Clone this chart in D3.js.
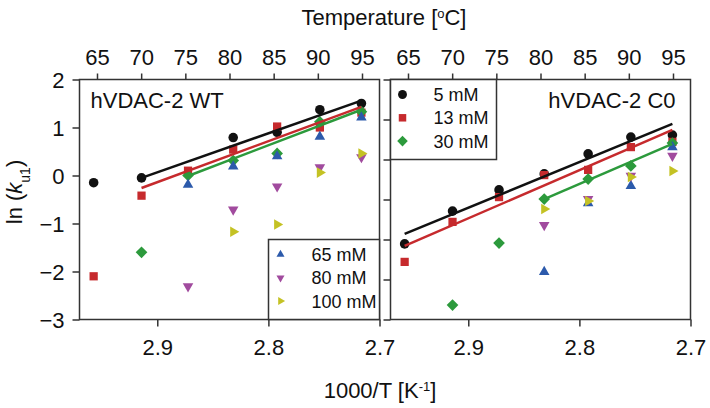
<!DOCTYPE html>
<html>
<head>
<meta charset="utf-8">
<script src="https://cdn.jsdelivr.net/npm/d3@7"></script>
<style>
  body { margin: 0; background: #fff; }
  text { font-family: "Liberation Sans", Arial, sans-serif; fill: #111; }
</style>
</head>
<body>
<svg width="710" height="408"></svg>
<script>
// temperatures (degC) of the measurements
var temps = [65, 70, 75, 80, 85, 90, 95];

// hVDAC-2 WT, ln(ku1) per concentration (null = no point)
var wt5   = [-0.15, -0.05, null, 0.79, 0.90, 1.37, 1.50];
var wt13  = [-2.10, -0.42, 0.10, 0.54, 1.02, 1.00, 1.31];
var wt30  = [null, -1.60, 0.00, 0.31, 0.46, 1.12, 1.33];
var wt65  = [null, null, -0.19, 0.19, 0.40, 0.81, 1.21];
var wt80  = [null, null, -2.31, -0.71, -0.23, 0.17, 0.38];
var wt100 = [null, null, null, -1.17, -1.02, 0.06, 0.46];

// hVDAC-2 C0
var c05  = [-2.11, -1.29, -0.76, -0.36, 0.14, 0.56, 0.61];
var c13  = [-2.56, -1.56, -0.94, -0.39, -0.26, 0.31, 0.44];
var c30  = [null, -3.64, -2.09, -0.99, -0.49, -0.16, 0.41];
var c65  = [null, null, null, -2.81, -1.09, -0.66, 0.31];
var c80  = [null, null, null, -1.64, -0.99, -0.41, 0.09];
var c100 = [null, null, null, -1.24, -1.04, -0.44, -0.29];

// linear fits: [startTemp, startValue, endTemp, endValue]
var wtFits = [[70, -0.05, 95, 1.56], [70, -0.26, 95, 1.43], [75, -0.01, 95, 1.37]];
var c0Fits = [[65, -1.86, 95, 0.89], [65, -2.16, 95, 0.74], [80, -0.99, 95, 0.39]];

var concLabels = ["5 mM", "13 mM", "30 mM", "65 mM", "80 mM", "100 mM"];
var colors = ["#111111", "#c62a2d", "#2c9a3c", "#2c5aab", "#a14b9e", "#c4c224"];
var shapes = ["circle", "square", "diamond", "up", "down", "right"];

var topTicks = [65, 70, 75, 80, 85, 90, 95];
var bottomTicks = [2.9, 2.8, 2.7];
var yTicksWT = [2, 1, 0, -1, -2, -3];
var yTicksC0 = [2, 1, 0, -1, -2, -3, -4];

var svg = d3.select("svg");
var pw = 300, ph = 240, top0 = 79.5;

function invT(t) { return 1000 / (t + 273.15); }

function symbolPath(shape, big) {
    var s = d3.symbol();
    if (shape == "circle") return s.type(d3.symbolCircle).size(big ? 72 : 62)();
    if (shape == "square" || shape == "diamond") return s.type(d3.symbolSquare).size(big ? 68 : 56)();
    return s.type(d3.symbolTriangle).size(big ? 48 : 28)();
}
function symbolRot(shape) {
    if (shape == "diamond") return 45;
    if (shape == "down") return 180;
    if (shape == "right") return 90;
    return 0;
}

function panel(left, series, fits, yDomain, yTicks, yLabels) {
    var g = svg.append("g").attr("transform", "translate(" + left + "," + top0 + ")");
    var x = d3.scaleLinear().domain([2.97, 2.7]).range([0, pw]);
    var xt = d3.scaleLinear().domain([65, 95]).range([17.5, 282.5]);
    var y = d3.scaleLinear().domain(yDomain).range([ph, 0]);

    var left_ax = g.append("g").call(d3.axisLeft(y).tickValues(yTicks).tickSize(7)
        .tickFormat(yLabels ? d3.format("d") : ""));
    var top_ax = g.append("g").call(d3.axisTop(xt).tickValues(topTicks).tickSize(6).tickPadding(9));
    var bot_ax = g.append("g").attr("transform", "translate(0," + ph + ")")
        .call(d3.axisBottom(x).tickValues(bottomTicks).tickSize(7).tickPadding(13).tickFormat(d3.format(".1f")));
    [left_ax, top_ax, bot_ax].forEach(function(a) {
        a.select(".domain").remove();
        a.selectAll("line").attr("stroke", "#333").attr("stroke-width", 1.5);
        a.selectAll("text").style("font-size", "22px").attr("fill", "#111")
            .style("font-family", '"Liberation Sans", Arial, sans-serif');
    });
    left_ax.selectAll("text").attr("x", -15).attr("dy", "0.36em");

    g.append("rect").attr("width", pw).attr("height", ph)
        .attr("fill", "none").attr("stroke", "#333").attr("stroke-width", 1.5);

    series.forEach(function(vals, i) {
        var pts = temps.map(function(t, j) { return {t: t, v: vals[j]}; })
            .filter(function(d) { return d.v != null; });
        g.append("g").selectAll("path").data(pts).enter().append("path")
            .attr("d", symbolPath(shapes[i], true))
            .attr("fill", colors[i])
            .attr("transform", function(d) {
                return "translate(" + x(invT(d.t)) + "," + y(d.v) + ") rotate(" + symbolRot(shapes[i]) + ")";
            });
    });

    fits.forEach(function(f, i) {
        g.append("line")
            .attr("x1", x(invT(f[0]))).attr("y1", y(f[1]))
            .attr("x2", x(invT(f[2]))).attr("y2", y(f[3]))
            .attr("stroke", colors[i]).attr("stroke-width", 2.5);
    });
    return g;
}

var gL = panel(79.5, [wt5, wt13, wt30, wt65, wt80, wt100], wtFits, [-3, 2], yTicksWT, true);
var gR = panel(390.5, [c05, c13, c30, c65, c80, c100], c0Fits, [-4, 2], yTicksC0, false);

gL.append("text").attr("x", 11).attr("y", 28).style("font-size", "22px").text("hVDAC-2 WT");
gR.append("text").attr("x", 285).attr("y", 28).attr("text-anchor", "end").style("font-size", "22px").text("hVDAC-2 C0");

function legend(g, bx, by, bw, bh, idx) {
    g.append("rect").attr("x", bx).attr("y", by).attr("width", bw).attr("height", bh)
        .attr("fill", "#fff").attr("stroke", "#333").attr("stroke-width", 1.5);
    idx.forEach(function(i, k) {
        var cy = by + 15 + k * 23.3;
        g.append("path").attr("d", symbolPath(shapes[i], false)).attr("fill", colors[i])
            .attr("transform", "translate(" + (bx + 12) + "," + cy + ") rotate(" + symbolRot(shapes[i]) + ")");
        g.append("text").attr("x", bx + 43).attr("y", cy).attr("dy", "0.36em")
            .style("font-size", "18px").text(concLabels[i]);
    });
}
legend(gR, 0, 0, 106, 80, [0, 1, 2]);
legend(gL, 189, 160, 111, 80, [3, 4, 5]);

// axis titles
var t1 = svg.append("text").attr("x", 384).attr("y", 25).attr("text-anchor", "middle").style("font-size", "22px");
t1.append("tspan").text("Temperature [");
t1.append("tspan").attr("baseline-shift", "super").style("font-size", "13px").text("o");
t1.append("tspan").text("C]");

var t2 = svg.append("text").attr("x", 380).attr("y", 398).attr("text-anchor", "middle").style("font-size", "22px");
t2.append("tspan").text("1000/T [K");
t2.append("tspan").attr("baseline-shift", "super").style("font-size", "13px").text("-1");
t2.append("tspan").text("]");

var t3 = svg.append("text").attr("transform", "translate(22,192) rotate(-90)")
    .attr("text-anchor", "middle").style("font-size", "22px");
t3.append("tspan").text("ln (");
t3.append("tspan").style("font-style", "italic").text("k");
t3.append("tspan").attr("baseline-shift", "sub").style("font-size", "14px").text("u1");
t3.append("tspan").text(")");
</script>
</body>
</html>
